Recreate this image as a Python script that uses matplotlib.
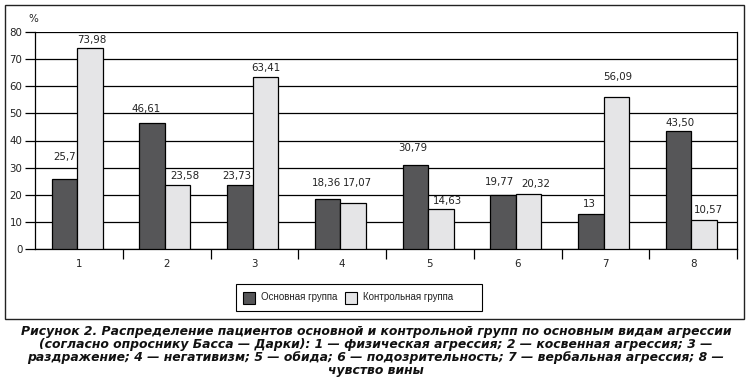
import matplotlib
matplotlib.use("Agg")
import matplotlib.pyplot as plt
from matplotlib.patches import Rectangle
import numpy as np

plt.rcParams['font.family'] = ['DejaVu Sans']

categories = ["1", "2", "3", "4", "5", "6", "7", "8"]
main_vals = [25.7, 46.61, 23.73, 18.36, 30.79, 19.77, 13, 43.50]
ctrl_vals = [73.98, 23.58, 63.41, 17.07, 14.63, 20.32, 56.09, 10.57]
main_labels = ["25,7", "46,61", "23,73", "18,36", "30,79", "19,77", "13", "43,50"]
ctrl_labels = ["73,98", "23,58", "63,41", "17,07", "14,63", "20,32", "56,09", "10,57"]
yticks = [0, 10, 20, 30, 40, 50, 60, 70, 80]
series_names = ["Основная группа", "Контрольная группа"]
caption = ("Рисунок 2. Распределение пациентов основной и контрольной групп по основным видам агрессии\n"
           "(согласно опроснику Басса — Дарки): 1 — физическая агрессия; 2 — косвенная агрессия; 3 —\n"
           "раздражение; 4 — негативизм; 5 — обида; 6 — подозрительность; 7 — вербальная агрессия; 8 —\n"
           "чувство вины")

# label placement offsets in pixels (dx, dy above bar top) - layout only
main_off = [(0, 22), (-6, 14), (-3, 9), (-1, 16), (-3, 17), (-4, 13), (-1, 10), (1, 8)]
ctrl_off = [(2, 8), (7, 9), (1, 9), (4, 20), (7, 8), (7, 10), (1, 20), (4, 10)]

W, H = 749, 382
fig = plt.figure(figsize=(W / 100, H / 100), dpi=100)
fig.patch.set_facecolor("white")

def fx(px_):
    return px_ / W

def fy(py_):
    return (H - py_) / H

# outer frame
fig.add_artist(Rectangle((fx(5), fy(319)), 739 / W, 314 / H, transform=fig.transFigure,
                         fill=False, edgecolor="#222222", linewidth=1.0))

ax = fig.add_axes([fx(35), fy(249), 702 / W, 217 / H])
x = np.arange(1, len(categories) + 1)
bw = 0.29
dark = "#565658"
light = "#e5e5e7"
b1 = ax.bar(x - bw / 2 - 0.02, main_vals, bw, color=dark, edgecolor="black", linewidth=0.9, zorder=3,
            label=series_names[0])
b2 = ax.bar(x + bw / 2 - 0.02, ctrl_vals, bw, color=light, edgecolor="black", linewidth=0.9, zorder=3,
            label=series_names[1])

fs = 7.4
ax.set_xlim(0.5, len(categories) + 0.5)
ax.set_ylim(0, 80)
ax.set_yticks(yticks)
ax.set_yticklabels([str(v) for v in yticks], fontsize=fs, color="#222222")
ax.yaxis.grid(True, color="black", linewidth=0.9, zorder=0)
ax.set_axisbelow(True)

ax.set_xticks(x)
ax.set_xticklabels(categories, fontsize=fs, color="#222222")
ax.tick_params(axis="x", which="major", length=0, pad=7)
ax.set_xticks(np.arange(1.5, len(categories) + 0.6, 1), minor=True)
ax.tick_params(axis="x", which="minor", length=7, width=0.9, direction="out", color="black")
ax.tick_params(axis="y", length=7, width=0.9, direction="out", color="black", pad=2)

ax.spines["top"].set_visible(False)
for s in ["left", "right", "bottom"]:
    ax.spines[s].set_linewidth(0.9)
    ax.spines[s].set_color("black")

px = 72 / 100
for rect, lab, (dx, dy) in zip(b1, main_labels, main_off):
    ax.annotate(lab, (rect.get_x() + rect.get_width() / 2, rect.get_height()),
                xytext=(dx * px, dy * px), textcoords="offset points",
                ha="center", va="center", fontsize=fs, color="#222222")
for rect, lab, (dx, dy) in zip(b2, ctrl_labels, ctrl_off):
    ax.annotate(lab, (rect.get_x() + rect.get_width() / 2, rect.get_height()),
                xytext=(dx * px, dy * px), textcoords="offset points",
                ha="center", va="center", fontsize=fs, color="#222222")

fig.text(fx(33), fy(19), "%", fontsize=fs, ha="center", va="center", color="#222222")

# legend (drawn as a boxed key, Excel-style)
fig.add_artist(Rectangle((fx(236), fy(311)), 246 / W, 27 / H, transform=fig.transFigure,
                         fill=True, facecolor="white", edgecolor="black", linewidth=0.8))
key_x = [243, 345]
text_x = [261, 363]
for kx, tx, col, name in zip(key_x, text_x, [dark, light], series_names):
    fig.add_artist(Rectangle((fx(kx), fy(303.5)), 11.5 / W, 12 / H, transform=fig.transFigure,
                             facecolor=col, edgecolor="black", linewidth=0.8))
    fig.text(fx(tx), fy(297.5), name, fontsize=7.0, family="Liberation Sans",
             ha="left", va="center", color="#222222")

fig.text(fx(376), fy(351), caption, ha="center", va="center", fontsize=8.9,
         fontweight="bold", fontstyle="italic", linespacing=1.0, color="#111111")

fig.savefig("out.png", dpi=100)
